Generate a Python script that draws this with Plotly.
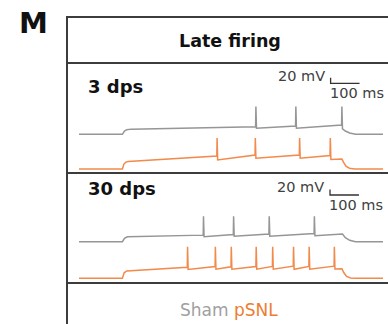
import plotly.graph_objects as go

# ---------------- data (ms, mV) ----------------
REST_MV = -70
END_MS = 1050

# 3 dps - Sham (grey)
sham3_onset_t = [150, 157, 165, 180]
sham3_onset_v = [-70, -58, -53, -51]
sham3_spike_t = [610, 748, 907]
sham3_pre_v = [-42, -40, -36]
sham3_post_v = [-48, -48, -50]
sham3_peak_v = 31
sham3_decay_t = [920, 935, 955]
sham3_decay_v = [-58, -65, -70]

# 3 dps - pSNL (orange)
psnl3_onset_t = [150, 155, 162, 170]
psnl3_onset_v = [-70, -52, -45, -43]
psnl3_spike_t = [476, 608, 761, 867]
psnl3_pre_v = [-23, -19, -19, -21]
psnl3_post_v = [-37, -31, -31, -35]
psnl3_peak_v = 43
psnl3_decay_t = [908, 914, 922, 934, 952]
psnl3_decay_v = [-34, -46, -60, -67, -70]

# 30 dps - Sham (grey)
sham30_onset_t = [150, 157, 167]
sham30_onset_v = [-70, -58, -52]
sham30_spike_t = [429, 533, 656, 812]
sham30_pre_v = [-46, -44, -42, -40]
sham30_post_v = [-52, -50, -50, -48]
sham30_peak_v = 23
sham30_decay_t = [910, 920, 935, 955]
sham30_decay_v = [-42, -55, -65, -70]

# 30 dps - pSNL (orange)
psnl30_onset_t = [150, 156, 165]
psnl30_onset_v = [-70, -50, -43]
psnl30_spike_t = [374, 470, 525, 611, 668, 740, 794, 881]
psnl30_pre_v = [-30, -27, -28, -27, -27, -26, -27, -26]
psnl30_post_v = [-38, -37, -37, -37, -37, -37, -37, -36]
psnl30_peak_v = 45
psnl30_decay_t = [908, 915, 924, 938, 955]
psnl30_decay_v = [-35, -50, -63, -69, -70]

SCALE_MS = 100
SCALE_MV = 20

panel_labels = ["3 dps", "30 dps"]
title_text = "Late firing"
legend_names = ["Sham", "pSNL"]

# ---------------- layout constants ----------------
W, H = 388, 324
GREY = "#969696"
ORANGE = "#f28a4c"
BOX = "#3c3c3c"
FONT = "DejaVu Sans"
PX_PER_MV = 0.275
X0_PX, X1_PX = 79, 383

def fx(px):
    return px / W

def fy(py):
    return 1 - py / H

def build(onset_t, onset_v, spike_t, pre_v, post_v, peak_v, decay_t, decay_v, offset):
    t = [0] + list(onset_t)
    v = [REST_MV] + list(onset_v)
    for st, pv, qv in zip(spike_t, pre_v, post_v):
        t += [st, st + 1, st + 3]
        v += [pv, peak_v, qv]
    t += list(decay_t) + [END_MS]
    v += list(decay_v) + [REST_MV]
    return t, [x + offset for x in v]

# panel geometry (pixels): top, bottom, orange-rest pixel, grey offset (mV)
panels = [
    dict(top=63, bot=173, rest_px=169.0, grey_off=126, sb_t=869, sb_px=83.3),
    dict(top=173, bot=283, rest_px=278.3, grey_off=133, sb_t=867, sb_px=195.0),
]
series = [
    ((sham3_onset_t, sham3_onset_v, sham3_spike_t, sham3_pre_v, sham3_post_v, sham3_peak_v, sham3_decay_t, sham3_decay_v),
     (psnl3_onset_t, psnl3_onset_v, psnl3_spike_t, psnl3_pre_v, psnl3_post_v, psnl3_peak_v, psnl3_decay_t, psnl3_decay_v)),
    ((sham30_onset_t, sham30_onset_v, sham30_spike_t, sham30_pre_v, sham30_post_v, sham30_peak_v, sham30_decay_t, sham30_decay_v),
     (psnl30_onset_t, psnl30_onset_v, psnl30_spike_t, psnl30_pre_v, psnl30_post_v, psnl30_peak_v, psnl30_decay_t, psnl30_decay_v)),
]

fig = go.Figure()
annotations = []
layout_axes = {}

for i, (p, (sham, psnl)) in enumerate(zip(panels, series)):
    yname = "y" if i == 0 else "y2"
    ykey = "yaxis" if i == 0 else "yaxis2"
    v_top = REST_MV + (p["rest_px"] - p["top"]) / PX_PER_MV
    v_bot = REST_MV - (p["bot"] - p["rest_px"]) / PX_PER_MV
    layout_axes[ykey] = dict(domain=[fy(p["bot"]), fy(p["top"])], range=[v_bot, v_top],
                             visible=False, anchor="x", fixedrange=True)
    t, v = build(*sham, offset=p["grey_off"])
    fig.add_trace(go.Scatter(x=t, y=v, mode="lines", yaxis=yname,
                             line=dict(color=GREY, width=1.5), hoverinfo="skip"))
    t, v = build(*psnl, offset=0)
    fig.add_trace(go.Scatter(x=t, y=v, mode="lines", yaxis=yname,
                             line=dict(color=ORANGE, width=1.5), hoverinfo="skip"))
    # scale bar
    sb_v = REST_MV + (p["rest_px"] - p["sb_px"]) / PX_PER_MV
    sb_x = [p["sb_t"], p["sb_t"], p["sb_t"] + SCALE_MS]
    sb_y = [sb_v + SCALE_MV, sb_v, sb_v]
    fig.add_trace(go.Scatter(x=sb_x, y=sb_y, mode="lines", yaxis=yname,
                             line=dict(color="#333333", width=1.3), hoverinfo="skip"))
    annotations.append(dict(x=p["sb_t"], y=sb_v, xref="x", yref=yname, text=f"{SCALE_MV} mV",
                            xanchor="right", yanchor="middle", xshift=-4, yshift=7 if i == 0 else 8,
                            showarrow=False, font=dict(family=FONT, size=14.5, color="#404040")))
    annotations.append(dict(x=p["sb_t"], y=sb_v, xref="x", yref=yname, text=f"{SCALE_MS} ms",
                            xanchor="left", yanchor="middle", xshift=-3, yshift=-10,
                            showarrow=False, font=dict(family=FONT, size=14.5, color="#404040")))
    annotations.append(dict(x=fx(86), y=fy(86 if i == 0 else 188), xref="paper", yref="paper",
                            text=f"<b>{panel_labels[i]}</b>", xanchor="left", yanchor="middle",
                            showarrow=False, font=dict(family=FONT, size=18, color="#111111")))

annotations.append(dict(x=fx(33), y=fy(23), xref="paper", yref="paper", text="<b>M</b>",
                        xanchor="center", yanchor="middle", showarrow=False,
                        font=dict(family=FONT, size=29, color="#111111")))
annotations.append(dict(x=fx(230), y=fy(41), xref="paper", yref="paper", text=f"<b>{title_text}</b>",
                        xanchor="center", yanchor="middle", showarrow=False,
                        font=dict(family=FONT, size=17.5, color="#111111")))
annotations.append(dict(x=fx(229), y=fy(310), xref="paper", yref="paper",
                        text=f'<span style="color:#a0a0a0">{legend_names[0]}</span> '
                             f'<span style="color:#ed7d31">{legend_names[1]}</span>',
                        xanchor="center", yanchor="middle", showarrow=False,
                        font=dict(family=FONT, size=17)))

shapes = []
for yy in [17, 63, 173, 283]:
    shapes.append(dict(type="line", xref="paper", yref="paper", x0=fx(66), x1=fx(395),
                       y0=fy(yy), y1=fy(yy), line=dict(color=BOX, width=2)))
shapes.append(dict(type="line", xref="paper", yref="paper", x0=fx(67), x1=fx(67),
                   y0=fy(16), y1=fy(330), line=dict(color=BOX, width=2)))

fig.update_layout(
    width=W, height=H, margin=dict(l=0, r=0, t=0, b=0),
    paper_bgcolor="white", plot_bgcolor="white", showlegend=False,
    xaxis=dict(domain=[fx(X0_PX), fx(X1_PX)], range=[0, END_MS], visible=False, fixedrange=True),
    annotations=annotations, shapes=shapes,
    **layout_axes,
)
fig.write_html("out.html", config={"displayModeBar": False},
               post_script="document.body.style.margin='0';document.body.style.overflow='hidden';")
